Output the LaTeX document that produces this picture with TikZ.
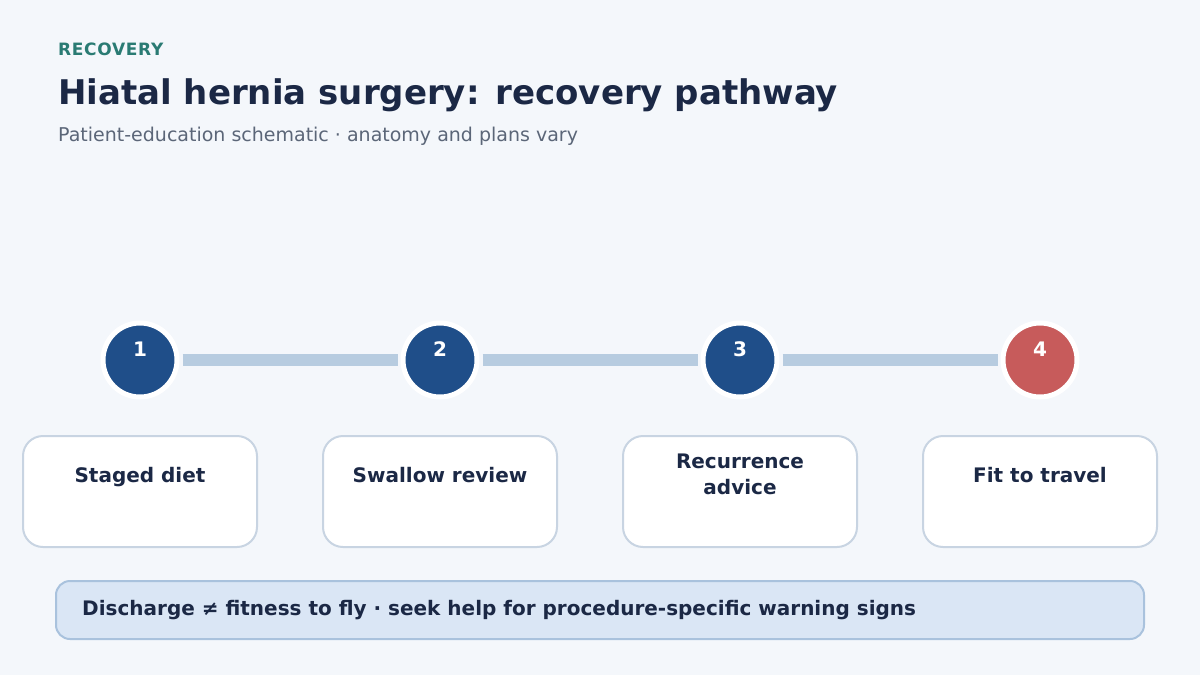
\documentclass[tikz,border=0pt]{standalone}
\usepackage{fontspec}
\setmainfont{DejaVu Sans}
\begin{document}
\begin{tikzpicture}[x=1pt,y=-1pt,
  stepcircle/.style={circle, minimum size=74pt, inner sep=0pt, draw=white, line width=5pt, fill=stepblue},
  stepnum/.style={text=white, font=\bfseries\fontsize{20}{24}\selectfont},
  bar/.style={draw=barblue, line width=12pt, shorten <=3pt, shorten >=3pt},
  card/.style={draw=cardline, line width=2pt, fill=white, rounded corners=20pt, minimum width=234pt, minimum height=111pt, inner sep=0pt},
  cardtext/.style={text=ink, font=\bfseries\fontsize{20}{26}\selectfont, align=center},
]
\definecolor{bg}{HTML}{F4F7FB}
\definecolor{stepblue}{HTML}{1F4E89}
\definecolor{stepred}{HTML}{C75B5B}
\definecolor{barblue}{HTML}{B7CCE0}
\definecolor{cardline}{HTML}{C8D4E2}
\definecolor{ink}{HTML}{1B2845}
\definecolor{teal}{HTML}{2A7B73}
\definecolor{subgray}{HTML}{5B6678}
\definecolor{notefill}{HTML}{DAE6F5}
\definecolor{noteline}{HTML}{A9C2DD}

\fill[bg] (0,0) rectangle (1200,675);
\useasboundingbox (0,0) rectangle (1200,675);

\node[anchor=base west, inner sep=0pt, text=teal, font=\bfseries\fontsize{17}{20}\selectfont] (kicker) at (58,55) {\addfontfeature{LetterSpace=4}RECOVERY};
\node[anchor=base west, inner sep=0pt, text=ink, font=\bfseries\fontsize{34}{40}\selectfont] (title) at (58,104) {Hiatal hernia surgery: recovery pathway};
\node[anchor=base west, inner sep=0pt, text=subgray, font=\fontsize{19}{23}\selectfont] (subtitle) at (58,141) {Patient-education schematic · anatomy and plans vary};

\node[stepcircle] (c1) at (140,360) {};
\node[stepcircle] (c2) at (440,360) {};
\node[stepcircle] (c3) at (740,360) {};
\node[stepcircle, fill=stepred] (c4) at (1040,360) {};

\draw[bar] (c1) -- (c2);
\draw[bar] (c2) -- (c3);
\draw[bar] (c3) -- (c4);

\node[stepnum] (n1) at (140,349) {1};
\node[stepnum] (n2) at (440,349) {2};
\node[stepnum] (n3) at (740,349) {3};
\node[stepnum] (n4) at (1040,349) {4};

\node[card] (k1) at (140,491.5) {};
\node[card] (k2) at (440,491.5) {};
\node[card] (k3) at (740,491.5) {};
\node[card] (k4) at (1040,491.5) {};

\node[cardtext] (t1) at (140,477) {\strut Staged diet};
\node[cardtext] (t2) at (440,477) {\strut Swallow review};
\node[cardtext] (t3) at (740,476) {\strut Recurrence\\\strut advice};
\node[cardtext] (t4) at (1040,477) {\strut Fit to travel};

\node[draw=noteline, line width=2pt, fill=notefill, rounded corners=14pt, minimum width=1088pt, minimum height=58pt, inner sep=0pt] (note) at (600,610) {};
\node[anchor=west, inner sep=0pt, text=ink, font=\bfseries\fontsize{20}{24}\selectfont] (notetext) at (82,610) {Discharge ≠ fitness to fly · seek help for procedure-specific warning signs};
\end{tikzpicture}
\end{document}
